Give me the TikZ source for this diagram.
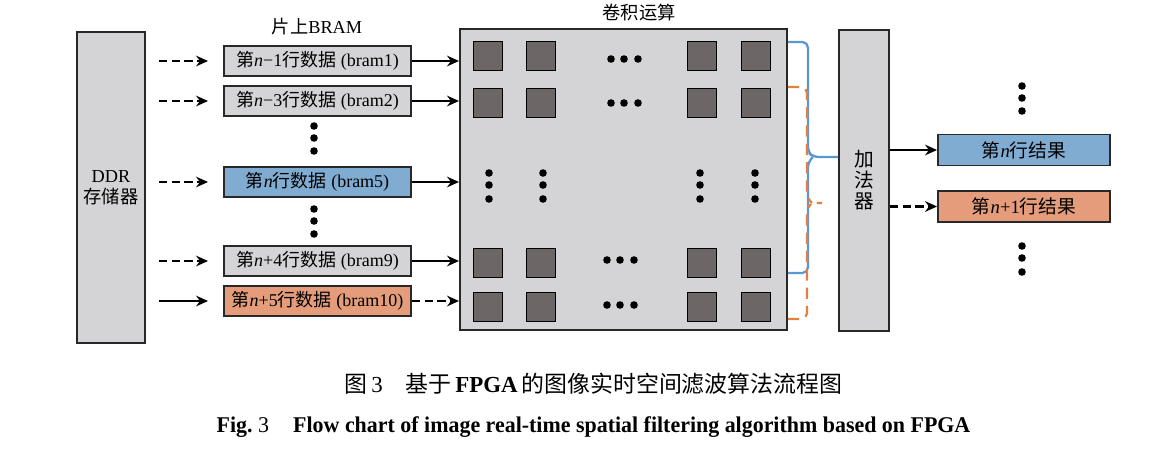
\documentclass[tikz,border=0pt]{standalone}
\usepackage{fontspec}
\setmainfont{Liberation Serif}
\newfontfamily\cjk{Noto Sans CJK SC}
\usetikzlibrary{arrows.meta}

\definecolor{boxgray}{RGB}{212,212,214}
\definecolor{cellgray}{RGB}{108,102,103}
\definecolor{rowblue}{RGB}{128,172,210}
\definecolor{roworange}{RGB}{228,156,122}
\definecolor{braceblue}{RGB}{92,150,208}
\definecolor{braceorange}{RGB}{232,126,62}
\definecolor{edgegray}{RGB}{40,40,40}

\tikzset{
  unit box/.style={draw=edgegray, line width=1.3pt, fill=boxgray, inner sep=0pt,
    font=\fontsize{13}{15}\selectfont},
  bram/.style={unit box, minimum width=4.675cm, minimum height=0.75cm,
    font=\fontsize{12.8}{14}\selectfont},
  result/.style={unit box, minimum width=4.3cm, minimum height=0.775cm,
    font=\fontsize{13.3}{15}\selectfont},
  cell/.style={draw=black, line width=1pt, fill=cellgray, minimum size=0.725cm, inner sep=0pt},
  feed/.style={line width=2.1pt, -{Stealth[length=8.5pt,width=7.5pt]}},
  feed dashed/.style={feed, dash pattern=on 6pt off 3pt},
  brace blue/.style={braceblue, line width=1.6pt, rounded corners=4pt},
  brace orange/.style={braceorange, line width=1.6pt, rounded corners=4pt, dash pattern=on 8pt off 5pt},
  label text/.style={font=\fontsize{13}{15}\selectfont},
}

\begin{document}
\begin{tikzpicture}[x=0.025cm, y=-0.025cm]
  \useasboundingbox (0,0) rectangle (1173,461);

  % storage and on-chip buffers
  \node[unit box, minimum width=1.7cm, minimum height=7.775cm, align=center] (ddr) at (111,187.5) {DDR\\{\cjk 存储器}};
  \node[label text] (bram label) at (317,27) {{\cjk 片上}BRAM};
  \node[bram] (b1) at (317.5,61) {{\cjk 第}\textit{n}−1{\cjk 行数据} (bram1)};
  \node[bram] (b2) at (317.5,101) {{\cjk 第}\textit{n}−3{\cjk 行数据} (bram2)};
  \node[bram, fill=rowblue] (b5) at (317.5,182) {{\cjk 第}\textit{n}{\cjk 行数据} (bram5)};
  \node[bram] (b9) at (317.5,261) {{\cjk 第}\textit{n}+4{\cjk 行数据} (bram9)};
  \node[bram, fill=roworange] (b10) at (317.5,301) {{\cjk 第}\textit{n}+5{\cjk 行数据} (bram10)};
  \foreach \dy in {126,138,151,209,221,234}
    \fill (314,\dy) circle[radius=2.7pt];

  % convolution array
  \node[unit box, minimum width=8.175cm, minimum height=7.525cm] (conv) at (623.5,179.5) {};
  \node[label text] (conv label) at (639,13) {\cjk 卷积运算};
  \foreach \cx in {488,541,702,756}
    \foreach \cy in {56,103,263,307}
      \node[cell] (cell-\cx-\cy) at (\cx,\cy) {};
  \foreach \dx in {611,624,638} {
    \fill (\dx,59) circle[radius=2.7pt];
    \fill (\dx,103) circle[radius=2.7pt];
  }
  \foreach \dx in {607,620,634} {
    \fill (\dx,260) circle[radius=2.7pt];
    \fill (\dx,305) circle[radius=2.7pt];
  }
  \foreach \dx in {489,543,700,755}
    \foreach \dy in {173,185,199}
      \fill (\dx,\dy) circle[radius=2.7pt];

  % adder and results
  \node[unit box, minimum width=1.25cm, minimum height=7.525cm, align=center,
    font=\fontsize{14}{15}\selectfont] (adder) at (864,180.5)
    {{\cjk 加}\\{\cjk 法}\\{\cjk 器}};
  \node[result, fill=rowblue] (r1) at (1024,150) {{\cjk 第}\textit{n}{\cjk 行结果}};
  \node[result, fill=roworange] (r2) at (1024,206.5) {{\cjk 第}\textit{n}+1{\cjk 行结果}};
  \foreach \dy in {86,98,111,246,258,272}
    \fill (1022,\dy) circle[radius=2.7pt];

  % DDR to BRAM
  \draw[feed dashed, shorten <=0.325cm, shorten >=0.375cm] (ddr.east |- b1.west) -- (b1.west);
  \draw[feed dashed, shorten <=0.325cm, shorten >=0.375cm] (ddr.east |- b2.west) -- (b2.west);
  \draw[feed dashed, shorten <=0.325cm, shorten >=0.375cm] (ddr.east |- b5.west) -- (b5.west);
  \draw[feed dashed, shorten <=0.325cm, shorten >=0.375cm] (ddr.east |- b9.west) -- (b9.west);
  \draw[feed, shorten <=0.325cm, shorten >=0.375cm] (ddr.east |- b10.west) -- (b10.west);

  % BRAM to convolution
  \draw[feed] (b1.east) -- (b1.east -| conv.west);
  \draw[feed] (b2.east) -- (b2.east -| conv.west);
  \draw[feed] (b5.east) -- (b5.east -| conv.west);
  \draw[feed] (b9.east) -- (b9.east -| conv.west);
  \draw[feed dashed] (b10.east) -- (b10.east -| conv.west);

  % partial sums to adder
  \draw[brace blue] (conv.east |- 0,42) -- ++(20,0) -- ++(0,110) -- ++(5,5) -- (adder.west |- 0,157);
  \draw[brace blue] (conv.east |- 0,273) -- ++(20,0) -- ++(0,-111) -- ++(5,-5);
  \draw[brace orange, shorten >=0.4cm] (conv.east |- 0,319) -- ++(19,0) -- ++(0,-111) -- ++(5,-5) -- (adder.west |- 0,203);
  \draw[brace orange] (conv.east |- 0,87) -- ++(19,0) -- ++(0,111) -- ++(5,5);

  % adder to results
  \draw[feed] (adder.east |- r1.west) -- (r1.west);
  \draw[feed dashed] (adder.east |- r2.west) -- (r2.west);

  % captions
  \node[font=\fontsize{16.3}{18}\selectfont] (cap cn) at (593.5,384)
    {{\cjk 图}\,3\quad{\cjk 基于}\,\textbf{FPGA}\,{\cjk 的图像实时空间滤波算法流程图}};
  \node (cap en) at (593.5,427)
    {\scalebox{0.975}[1]{\fontsize{16}{18}\selectfont\bfseries Fig.\ \mdseries3\bfseries\hspace{1.1em}Flow chart of image real-time spatial filtering algorithm based on FPGA}};
\end{tikzpicture}
\end{document}
